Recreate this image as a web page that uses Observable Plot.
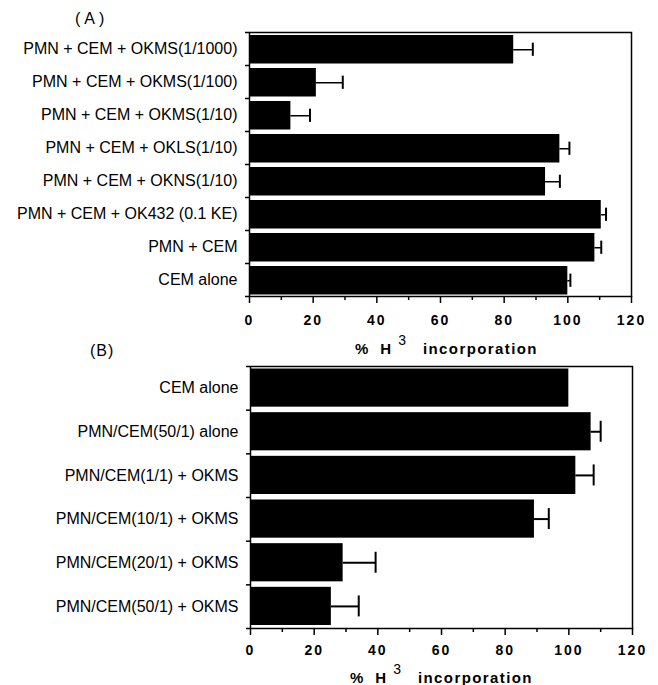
<!DOCTYPE html>
<html>
<head>
<meta charset="utf-8">
<script src="https://cdn.jsdelivr.net/npm/d3@7"></script>
<script src="https://cdn.jsdelivr.net/npm/@observablehq/plot@0.6"></script>
<style>
  html, body { margin: 0; padding: 0; background: white; }
  #wrap { position: relative; width: 658px; height: 685px; background: white; overflow: hidden;
          font-family: "Liberation Sans", Arial, Helvetica, sans-serif; color: black; }
  #wrap svg { position: absolute; left: 0; overflow: visible; z-index: 1; }
  .panel-label { position: absolute; z-index: 2; font-size: 16px; line-height: 16px; white-space: nowrap; }
  .xtitle { position: absolute; z-index: 2; font-size: 15px; line-height: 15px; font-weight: bold; white-space: nowrap; }
  .xtitle .sup { position: relative; top: -9px; font-size: 14px; font-weight: normal; margin-left: 7px; }
  .xtitle .h { margin-left: 12px; }
  .xtitle .word { margin-left: 17px; letter-spacing: 1.4px; }
</style>
</head>
<body>
<div id="wrap">
  <div class="panel-label" style="left:75px; top:11px; letter-spacing:4px;">(A)</div>
  <div class="panel-label" style="left:90px; top:343px; letter-spacing:1px;">(B)</div>
  <div class="xtitle" style="left:355px; top:341px;">%<span class="h">H</span><span class="sup">3</span><span class="word">incorporation</span></div>
  <div class="xtitle" style="left:350px; top:670px;">%<span class="h">H</span><span class="sup">3</span><span class="word">incorporation</span></div>
</div>
<script>
// ---- Data ----
const labelsA = [
  "PMN + CEM + OKMS(1/1000)",
  "PMN + CEM + OKMS(1/100)",
  "PMN + CEM + OKMS(1/10)",
  "PMN + CEM + OKLS(1/10)",
  "PMN + CEM + OKNS(1/10)",
  "PMN + CEM + OK432 (0.1 KE)",
  "PMN + CEM",
  "CEM alone"
];
const valuesA = [83, 21, 13, 97.5, 93, 110.5, 108.5, 100];
const errorsA = [6, 8.3, 6, 3, 4.5, 1.5, 2, 0.8];

const labelsB = [
  "CEM alone",
  "PMN/CEM(50/1) alone",
  "PMN/CEM(1/1) + OKMS",
  "PMN/CEM(10/1) + OKMS",
  "PMN/CEM(20/1) + OKMS",
  "PMN/CEM(50/1) + OKMS"
];
const valuesB = [100, 107, 102.2, 89.2, 29.1, 25.4];
const errorsB = [0, 3, 5.6, 4.5, 10.2, 8.6];

const xTicks = [0, 20, 40, 60, 80, 100, 120];
const xMinorTicks = [10, 30, 50, 70, 90, 110];

const FONT = '"Liberation Sans", Arial, Helvetica, sans-serif';

function panel(labels, values, errors, o) {
  const n = labels.length;
  const data = labels.map((label, i) => ({label, i, v: values[i], e: errors[i]}));
  const withErr = data.filter(d => d.e > 0);
  const mid = (o.insetTop - o.insetBottom) / 2;
  return Plot.plot({
    width: 658,
    height: o.height,
    marginTop: o.marginTop,
    marginBottom: o.marginBottom,
    marginLeft: o.marginLeft,
    marginRight: o.marginRight,
    style: {fontFamily: FONT, color: "black", background: "transparent", overflow: "visible"},
    x: {domain: [0, 120]},
    y: {domain: [0, n], reverse: true},
    marks: [
      Plot.rect(data, {x1: 0, x2: "v", y1: "i", y2: d => d.i + 1,
        insetTop: o.insetTop, insetBottom: o.insetBottom, fill: "black"}),
      Plot.ruleY(withErr, {y: d => d.i + 0.5, x1: "v", x2: d => d.v + d.e,
        dy: mid, stroke: "black", strokeWidth: o.stemWidth}),
      Plot.ruleX(withErr, {x: d => d.v + d.e, y1: d => d.i + 0.5 - o.cap, y2: d => d.i + 0.5 + o.cap,
        dy: mid, stroke: "black", strokeWidth: 2}),
      Plot.frame({stroke: "black", strokeWidth: 1.5}),
      Plot.axisY({ticks: d3.range(n + 1), tickSize: 4, strokeWidth: 1.5,
        tickFormat: () => "", label: null}),
      Plot.axisY({ticks: d3.range(n).map(i => i + 0.5), tickSize: 0, tickPadding: 12,
        tickFormat: t => labels[Math.floor(t)], fontSize: 16, label: null}),
      Plot.axisX({ticks: xTicks, tickSize: 7, tickPadding: o.tickPadding, strokeWidth: 1.5,
        fontSize: 14, fontWeight: "bold", label: null}),
      Plot.axisX({ticks: xMinorTicks, tickSize: 4, strokeWidth: 1.5,
        tickFormat: () => "", label: null})
    ]
  });
}

const chartA = panel(labelsA, valuesA, errorsA, {
  height: 355, marginTop: 32, marginBottom: 59, marginLeft: 249, marginRight: 27,
  insetTop: 3, insetBottom: 1.5, cap: 0.2, stemWidth: 1.5, tickPadding: 12
});
const chartB = panel(labelsB, valuesB, errorsB, {
  height: 330, marginTop: 11, marginBottom: 57, marginLeft: 250, marginRight: 26,
  insetTop: 2.5, insetBottom: 3, cap: 0.24, stemWidth: 2, tickPadding: 10
});

for (const svg of [chartA, chartB]) {
  svg.querySelectorAll('g[aria-label*="x-axis"] text').forEach(t => {
    t.style.letterSpacing = "2px";
    t.style.fontSize = "14px";
    t.style.fontWeight = "bold";
  });
}
chartA.style.top = "0px";
chartB.style.top = "355px";
const wrap = document.getElementById("wrap");
wrap.insertBefore(chartB, wrap.firstChild);
wrap.insertBefore(chartA, wrap.firstChild);
</script>
</body>
</html>
